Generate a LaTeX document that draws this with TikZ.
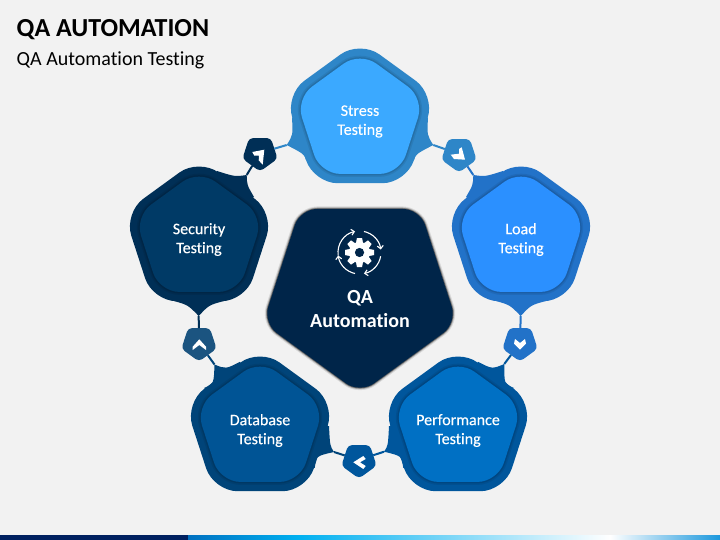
\documentclass[tikz,border=0pt]{standalone}
\usepackage{fontspec}
\setmainfont[Ligatures=NoCommon]{Carlito}
\newfontfamily\labelfont[Ligatures=NoCommon,FakeBold=0.3]{Carlito}
\usetikzlibrary{shapes.geometric,arrows.meta}
\definecolor{bg}{HTML}{F2F2F2}
\definecolor{stressIn}{HTML}{3BA9FF}\definecolor{stressOut}{HTML}{2E86C8}
\definecolor{loadIn}{HTML}{2B90FF}\definecolor{loadOut}{HTML}{2272C8}
\definecolor{perfIn}{HTML}{0070C4}\definecolor{perfOut}{HTML}{00569C}
\definecolor{dbIn}{HTML}{005495}\definecolor{dbOut}{HTML}{004479}
\definecolor{secIn}{HTML}{003A66}\definecolor{secOut}{HTML}{002F56}
\definecolor{dbSmall}{HTML}{1B5480}
\definecolor{core}{HTML}{002549}
\tikzset{
  pent/.style={regular polygon,regular polygon sides=5,inner sep=0pt,outer sep=0pt},
  bigouter/.style={pent,minimum size=158pt,rounded corners=24pt},
  biginner/.style={pent,minimum size=135pt,rounded corners=20pt,
    preaction={draw=black,draw opacity=.07,line width=6pt},
    preaction={draw=black,draw opacity=.10,line width=3pt}},
  biglabel/.style={text=white,align=center,inner sep=0pt,font=\labelfont\fontsize{16}{19}\selectfont},
  smallpent/.style={pent,minimum size=37pt,rounded corners=4pt,shape border rotate=180},
  corepent/.style={pent,minimum size=204pt,rounded corners=17pt,shape border rotate=180,fill=core,
    preaction={draw=black,draw opacity=.10,line width=5pt},
    preaction={draw=black,draw opacity=.22,line width=3pt},
    preaction={draw=black,draw opacity=.45,line width=1.4pt}},
  link/.style={line width=2pt},
  chev/.style={fill=white,draw=none},
}
\newcommand{\tailshape}[7]{\fill[#6] (#1) .. controls (#2) .. (#3) .. controls (#4) .. (#5) -- (#7) -- cycle;}
\begin{document}
\begin{tikzpicture}[x=1pt,y=-1pt]
\useasboundingbox (0,0) rectangle (720,540);
\fill[bg] (0,0) rectangle (720,540);
% bottom bar
\fill[fill={rgb,255:red,0;green,32;blue,96}] (0,535) rectangle (188,540);
\shade[left color={rgb,255:red,0;green,112;blue,192},right color={rgb,255:red,0;green,176;blue,240}] (188,535) rectangle (298,540);
\shade[left color={rgb,255:red,0;green,176;blue,240},right color=white] (298,535) rectangle (610,540);
\shade[left color=white,right color={rgb,255:red,27;green,152;blue,221}] (610,535) rectangle (720,540);
% title
\node[anchor=base west,inner sep=0pt,font=\fontsize{26}{30}\selectfont\bfseries] (title) at (16.5,36.7) {QA AUTOMATION};
\node[anchor=base west,inner sep=0pt,font=\fontsize{20}{24}\selectfont] (subtitle) at (16.5,66) {QA Automation Testing};
% centres
\coordinate (cStress) at (360,119.3);
\coordinate (cLoad) at (521,237.3);
\coordinate (cPerf) at (458,427.3);
\coordinate (cDb) at (260,427.3);
\coordinate (cSec) at (199,237.3);
% tail tips
\coordinate (stressR) at (433.3,145);
\coordinate (stressL) at (286.7,145);
\coordinate (loadU) at (473.3,175);
\coordinate (loadD) at (520.7,316);
\coordinate (perfU) at (504.3,364);
\coordinate (perfL) at (384,451.7);
\coordinate (dbR) at (334,452);
\coordinate (dbU) at (214.5,364.5);
\coordinate (secD) at (198.7,316);
\coordinate (secU) at (246.7,175);
% small pentagons
\node[smallpent,fill=secOut] (n1) at (260,153) {};
\node[smallpent,fill=stressOut] (n2) at (459,154) {};
\node[smallpent,fill=loadOut] (n3) at (520,343) {};
\node[smallpent,fill=perfOut] (n4) at (359,460) {};
\node[smallpent,fill=dbSmall] (n5) at (199,343) {};
% connectors
\draw[link,stressOut] (stressL) -- (n1);
\draw[link,stressOut] (stressR) -- (n2);
\draw[link,loadOut] (loadU) -- (n2);
\draw[link,loadOut] (loadD) -- (n3);
\draw[link,perfOut] (perfU) -- (n3);
\draw[link,perfOut] (perfL) -- (n4);
\draw[link,dbOut] (dbR) -- (n4);
\draw[link,dbOut] (dbU) -- (n5);
\draw[link,secOut] (secD) -- (n5);
\draw[link,secOut] (secU) -- (n1);
% tails
\tailshape{428,118}{427,135}{stressR}{416,154}{414,160}{stressOut}{cStress}
\tailshape{292,118}{293,135}{stressL}{304,154}{306,160}{stressOut}{cStress}
\tailshape{503,171}{485,176.7}{loadU}{473,185}{466,197}{loadOut}{cLoad}
\tailshape{496,301}{510,305}{loadD}{531,305}{546,301}{loadOut}{cLoad}
\tailshape{478,361.8}{492.2,369.1}{perfU}{504.2,384}{514,388}{perfOut}{cPerf}
\tailshape{389,426}{388,446}{perfL}{402,456}{403.2,468}{perfOut}{cPerf}
\tailshape{329,426}{330,446}{dbR}{316,456}{314.8,468}{dbOut}{cDb}
\tailshape{240,361.8}{225.8,369.1}{dbU}{213.8,384}{204,388}{dbOut}{cDb}
\tailshape{174,301}{188,305}{secD}{209,305}{224,301}{secOut}{cSec}
\tailshape{217,171}{235,176.7}{secU}{247,185}{254,197}{secOut}{cSec}
% big pentagons
\node[bigouter,fill=stressOut] (stressO) at (cStress) {};
\node[bigouter,fill=loadOut] (loadO) at (cLoad) {};
\node[bigouter,fill=perfOut] (perfO) at (cPerf) {};
\node[bigouter,fill=dbOut] (dbO) at (cDb) {};
\node[bigouter,fill=secOut] (secO) at (cSec) {};
\node[biginner,fill=stressIn] (stressI) at (cStress) {};
\node[biginner,fill=loadIn] (loadI) at (cLoad) {};
\node[biginner,fill=perfIn] (perfI) at (cPerf) {};
\node[biginner,fill=dbIn] (dbI) at (cDb) {};
\node[biginner,fill=secIn] (secI) at (cSec) {};
\node[biglabel] (stress) at (360,121.5) {Stress\\Testing};
\node[biglabel] (load) at (521,239.5) {Load\\Testing};
\node[biglabel] (perf) at (458,430.5) {Performance\\Testing};
\node[biglabel] (db) at (260,430.5) {Database\\Testing};
\node[biglabel] (sec) at (199,239.5) {Security\\Testing};
% core
\node[corepent] (core) at (360,291.5) {};
\node[text=white,align=center,inner sep=0pt,font=\fontsize{20}{24}\selectfont\bfseries] (qa) at (360,309) {QA\\Automation};
% chevrons
\fill[chev] (252.3,152) -- (264.3,149.7) -- (262.7,164.7) -- (258.7,160.3) -- (259,155.7) -- (254.3,155.7) -- cycle;
\fill[chev] (461.7,147.3) -- (465,159.7) -- (454,159) -- (450.7,154.7) -- (459,153.7) -- (459,149) -- cycle;
\fill[chev] (515,339) -- (520,343) -- (525,339) -- (526,343.7) -- (520,349.7) -- (514,343.7) -- cycle;
\fill[chev] (363.3,456) -- (353.3,462.3) -- (363.3,469) -- (365.7,466) -- (360,462.3) -- (365.7,459) -- cycle;
\fill[chev] (192.7,346.7) -- (199.3,339.3) -- (206,346.7) -- (206,350) -- (199.3,345) -- (192.7,350) -- cycle;
% gear icon
\begin{scope}[shift={(359.5,252.5)}]
  \fill[white] (0,0) circle[radius=10.5pt];
  \foreach \a in {0,45,...,315}{
    \fill[white,rotate=\a] (-3.6,9) -- (-2.6,14.5) -- (2.6,14.5) -- (3.6,9) -- cycle;
  }
  \fill[core] (0,0) circle[radius=4.6pt];
  \foreach \s/\e in {188/102,78/8,-10/-78,-102/-172}{
    \draw[white,line width=1.1pt,-{Straight Barb[length=3pt,width=6pt]}] (\s:21.5pt) arc[start angle=\s,end angle=\e,radius=21.5pt];
  }
\end{scope}
\end{tikzpicture}
\end{document}
